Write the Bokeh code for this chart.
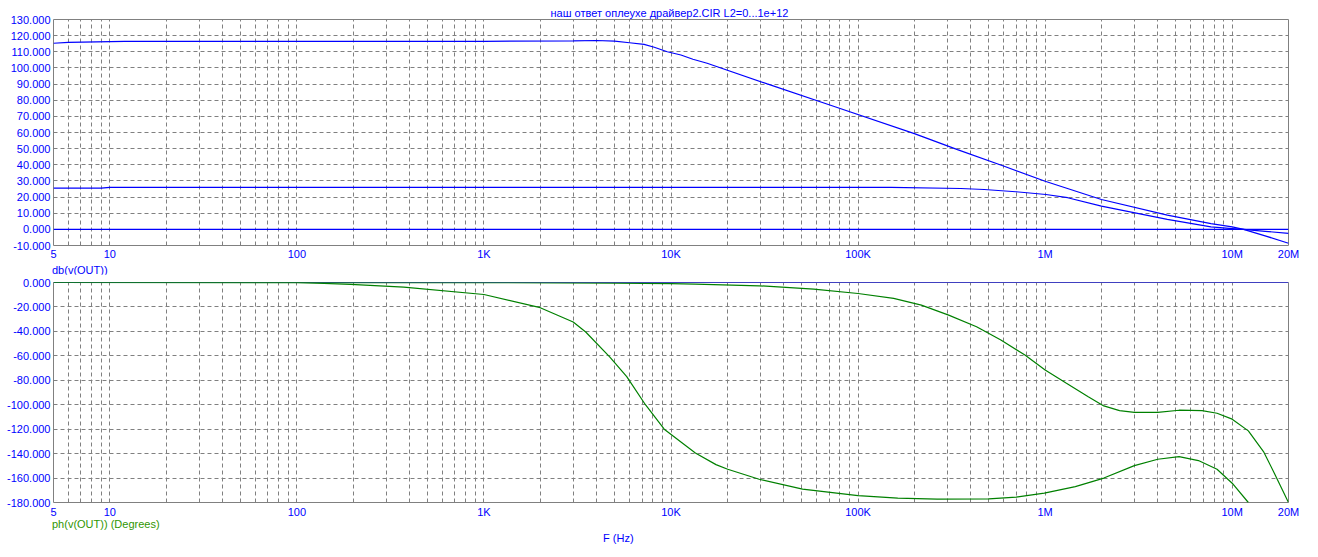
from bokeh.plotting import figure
from bokeh.models import Range1d, FixedTicker, NumeralTickFormatter, Title, Div
from bokeh.layouts import column
from bokeh.embed import file_html
from bokeh.resources import INLINE

# ---------------- data ----------------
TITLE = "наш ответ оплеухе  драйвер2.CIR L2=0...1e+12"
MAG_LABEL = "db(v(OUT))"
PH_LABEL = "ph(v(OUT)) (Degrees)"
X_LABEL = "F (Hz)"

# dB curves (three stepped runs)
f_mag1 = [5, 6, 12, 100, 1000, 3000, 4000, 5000, 6000, 7180, 8140, 9550, 11300, 13100, 15600,
          32700, 74600, 200000, 340000, 604000, 1000000, 2000000, 4500000, 7700000, 10000000,
          11500000, 15000000, 20000000]
db_mag1 = [115.3, 115.8, 116.4, 116.5, 116.5, 116.8, 117.0, 116.6, 115.6, 114.6, 112.8, 110.0,
           108.0, 105.4, 102.9, 90.1, 76.1, 59.3, 49.4, 39.1, 29.8, 18.5, 8.8, 3.5, 1.5, 0.0,
           -4.0, -8.6]

f_mag2 = [5, 9, 10, 150000, 354000, 472000, 697000, 1010000, 1320000, 2000000, 4500000,
          7700000, 10000000, 11500000, 15000000, 20000000]
db_mag2 = [25.5, 25.5, 26.0, 26.0, 25.3, 24.7, 23.3, 21.6, 19.6, 14.4, 6.2, 1.5, 0.5, 0.0,
           -1.2, -2.5]

f_mag3 = [5, 20000000]
db_mag3 = [0.0, 0.0]

# phase curves
f_ph1 = [5, 100, 194, 373, 1000, 2000, 3000, 3500, 4700, 5800, 7300, 9200, 13500, 17400, 20100,
         29600, 50500, 100000, 163000, 265000, 500000, 700000, 990000, 1450000, 2060000,
         3000000, 4000000, 5200000, 6600000, 8300000, 10000000, 12200000]
ph_ph1 = [0.0, 0.0, -1.6, -3.8, -9.8, -20.6, -32.3, -40.5, -60.8, -77.0, -100.0, -120.0, -139.5,
          -149.0, -152.8, -161.0, -169.0, -174.3, -176.5, -177.3, -177.0, -175.6, -172.4, -167.0,
          -160.0, -149.8, -144.6, -142.4, -145.7, -152.8, -164.2, -180.0]

f_ph2 = [5, 1000, 5000, 10000, 13500, 29600, 58000, 100000, 155000, 218000, 305000, 430000,
         580000, 780000, 1000000, 1300000, 1700000, 2060000, 2500000, 3000000, 4000000, 5200000,
         6900000, 8300000, 10000000, 12200000, 14700000, 16800000, 20000000]
ph_ph2 = [0.0, -0.1, -0.5, -1.0, -1.4, -2.7, -5.4, -9.0, -13.0, -18.5, -26.7, -36.2, -47.1,
          -59.4, -71.6, -82.5, -93.4, -101.0, -104.8, -106.2, -106.2, -104.5, -104.8, -107.0,
          -111.8, -121.4, -138.3, -156.0, -180.0]

f_ph3 = [5, 20000000]
ph_ph3 = [0.0, 0.0]

x_label_ticks = [5, 10, 100, 1000, 10000, 100000, 1000000, 10000000, 20000000]
x_label_text = ["5", "10", "100", "1K", "10K", "100K", "1M", "10M", "20M"]
top_y_ticks = list(range(-10, 131, 10))
bot_y_ticks = list(range(-180, 1, 20))

# grid positions 5..9, 10..90, ..., 10M, 20M
grid_ticks = []
for d in range(0, 8):
    for k in range(1, 10):
        v = k * 10 ** d
        if 5 <= v <= 20000000:
            grid_ticks.append(v)

# ---------------- style ----------------
BLUE = "#0000ff"
GREEN = "#008000"
GREEN_TXT = "#2f9600"
GRID = "#808080"
FONT = "Liberation Sans"
FS = "11px"

W = 1310
FRAME_W = 1235
LEFT = 53
RIGHT = W - LEFT - FRAME_W
LW = 1.2


def style(p, yticks, x_standoff):
    p.xaxis.ticker = FixedTicker(ticks=x_label_ticks)
    p.xaxis.major_label_overrides = {t: s for t, s in zip(x_label_ticks, x_label_text)}
    p.yaxis.ticker = FixedTicker(ticks=yticks)
    p.yaxis.formatter = NumeralTickFormatter(format="0.000")
    for ax in (p.xaxis[0], p.yaxis[0]):
        ax.axis_line_color = None
        ax.major_tick_line_color = None
        ax.minor_tick_line_color = None
        ax.major_tick_out = 0
        ax.major_tick_in = 0
        ax.minor_tick_out = 0
        ax.minor_tick_in = 0
        ax.major_label_text_font = FONT
        ax.major_label_text_font_size = FS
        ax.major_label_text_color = BLUE
        ax.major_label_standoff = 3
    p.xaxis[0].major_label_standoff = x_standoff
    p.xgrid.ticker = FixedTicker(ticks=grid_ticks)
    p.ygrid.ticker = FixedTicker(ticks=yticks)
    for g in (p.xgrid[0], p.ygrid[0]):
        g.grid_line_color = GRID
        g.grid_line_dash = "4 3"
        g.grid_line_width = 1
    p.outline_line_color = GRID
    p.outline_line_width = 1
    p.background_fill_color = "white"
    p.border_fill_color = "white"


TXT_CSS = "font-family:'Liberation Sans';font-size:11px;white-space:nowrap;"

# top figure: frame 227 px tall, page y 19..246
top = figure(width=W, height=262, x_axis_type="log", output_backend="svg",
             toolbar_location=None, x_range=Range1d(5, 20000000), y_range=Range1d(-10, 130),
             min_border_left=LEFT, min_border_right=RIGHT, min_border_top=19,
             min_border_bottom=16,
             title=Title(text=TITLE, align="center", standoff=2, text_font=FONT,
                         text_font_size=FS, text_color=BLUE, text_font_style="normal"))
style(top, top_y_ticks, 2)
top.line(f_mag1, db_mag1, line_color=BLUE, line_width=LW)
top.line(f_mag2, db_mag2, line_color=BLUE, line_width=LW)
top.line(f_mag3, db_mag3, line_color=BLUE, line_width=LW)

mag_div = Div(text=f'<div style="{TXT_CSS}line-height:12px;margin-top:-1px;'
                   f'padding-left:52px;color:{BLUE};"><u>{MAG_LABEL}</u></div>',
              width=W, height=12, margin=0)

# bottom figure: frame 221 px tall, page y 282..503
bot = figure(width=W, height=246, x_axis_type="log", output_backend="svg",
             toolbar_location=None, x_range=Range1d(5, 20000000), y_range=Range1d(-180, 0),
             min_border_left=LEFT, min_border_right=RIGHT, min_border_top=8,
             min_border_bottom=17)
bot.title = None
style(bot, bot_y_ticks, 3)
bot.line(f_ph3, ph_ph3, line_color=BLUE, line_width=LW)
bot.line(f_ph1, ph_ph1, line_color=GREEN, line_width=LW)
bot.line(f_ph2, ph_ph2, line_color=GREEN, line_width=LW)

foot_div = Div(text=f'<div style="{TXT_CSS}line-height:13px;margin-top:-2px;'
                    f'padding-left:52px;color:{GREEN_TXT};">{PH_LABEL}</div>'
                    f'<div style="{TXT_CSS}line-height:13px;padding-left:603px;padding-top:1px;'
                    f'color:{BLUE};">{X_LABEL}</div>',
               width=W, height=26, margin=0)

layout = column(top, mag_div, bot, foot_div, spacing=0)
open("out.html", "w").write(file_html(layout, INLINE))
